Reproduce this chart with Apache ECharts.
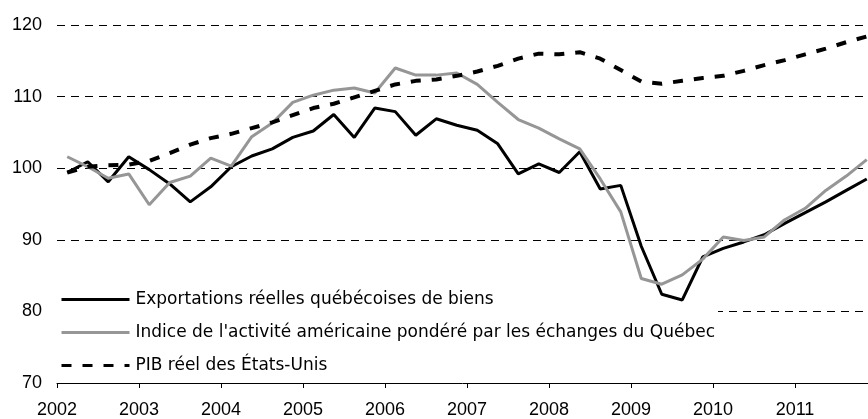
<!DOCTYPE html>
<html>
<head>
<meta charset="utf-8">
<script src="https://cdn.jsdelivr.net/npm/echarts@6/dist/echarts.min.js"></script>
<style>
  html, body { margin: 0; padding: 0; background: #fff; }
  #chart { width: 868px; height: 419px; }
</style>
</head>
<body>
<div id="chart"></div>
<script>
// quarterly series, 2002T1 .. 2011T4
let years = [2002, 2003, 2004, 2005, 2006, 2007, 2008, 2009, 2010, 2011]
let quarterNames = ['T1', 'T2', 'T3', 'T4']

let exportations = [
    99.4, 100.9, 98.1, 101.6, 99.8, 97.8, 95.3, 97.4, 100.2, 101.7,
    102.7, 104.3, 105.2, 107.5, 104.3, 108.4, 107.9, 104.6, 106.9, 106.0,
    105.3, 103.4, 99.2, 100.6, 99.4, 102.3, 97.1, 97.6, 89.1, 82.4,
    81.6, 87.6, 88.8, 89.7, 90.7, 92.3, 93.8, 95.3, 96.9, 98.5
]
let indiceUS = [
    101.6, 100.2, 98.6, 99.2, 94.9, 98.0, 98.9, 101.4, 100.3, 104.4,
    106.3, 109.2, 110.2, 110.9, 111.2, 110.5, 114.0, 113.0, 113.0, 113.3,
    111.7, 109.2, 106.8, 105.6, 104.1, 102.7, 98.5, 93.9, 84.6, 83.8,
    85.1, 87.3, 90.4, 89.9, 90.4, 92.8, 94.4, 96.9, 98.9, 101.2
]
let pibUS = [
    99.4, 100.2, 100.4, 100.5, 101.0, 102.1, 103.3, 104.2, 104.8, 105.6,
    106.4, 107.4, 108.4, 109.0, 109.9, 110.8, 111.7, 112.2, 112.4, 112.9,
    113.5, 114.3, 115.3, 116.0, 115.9, 116.2, 115.3, 113.7, 112.1, 111.8,
    112.2, 112.6, 112.9, 113.6, 114.4, 115.1, 115.9, 116.7, 117.6, 118.4
]

let seriesNames = [
    'Exportations réelles québécoises de biens',
    "Indice de l'activité américaine pondéré par les échanges du Québec",
    'PIB réel des États-Unis'
]

let yTicks = { min: 70, max: 120, interval: 10 }

// position of each quarter on the time scale (middle of the quarter)
let quarterPos = []
years.forEach(y => quarterNames.forEach((q, i) => quarterPos.push(y + (i + 0.5) / 4)))

function toPoints(values) {
    return values.map((v, i) => [quarterPos[i], v])
}

let font = 'Liberation Sans, Arial, sans-serif'
let chart = echarts.init(document.getElementById('chart'))

let chartOpt = {
    animation: false,
    grid: {
        left: 57,
        right: 0,
        top: 25,
        bottom: 36
    },
    xAxis: {
        type: 'value',
        min: years[0],
        max: 2011.89,
        interval: 1,
        axisLine: { lineStyle: { color: '#000', width: 1 } },
        axisTick: { show: true, length: 5, lineStyle: { color: '#000' } },
        axisLabel: {
            color: '#000',
            fontFamily: font,
            fontSize: 18,
            margin: 18,
            showMaxLabel: false,
            formatter: v => (Number.isInteger(v) ? String(v) : '')
        },
        splitLine: { show: false }
    },
    yAxis: {
        type: 'value',
        min: yTicks.min,
        max: yTicks.max,
        interval: yTicks.interval,
        axisLine: { show: false },
        axisTick: { show: false },
        axisLabel: {
            color: '#000',
            fontFamily: font,
            fontSize: 18,
            margin: 15
        },
        splitLine: {
            show: true,
            lineStyle: { color: '#000', width: 1, type: [8, 6] }
        }
    },
    // white box hides the 80 gridline behind the legend, lines stay on top
    legend: {
        orient: 'vertical',
        left: 57,
        top: 288,
        z: 3,
        padding: [3, 3, 3, 3],
        backgroundColor: '#fff',
        itemWidth: 68,
        itemHeight: 20,
        itemGap: 16,
        itemStyle: { opacity: 0 },
        lineStyle: { width: 3 },
        textStyle: { color: '#000', fontFamily: 'DejaVu Sans, sans-serif', fontSize: 17, padding: [0, 0, 0, 1] },
        data: seriesNames
    },
    series: [
        {
            name: seriesNames[0],
            type: 'line',
            z: 5,
            symbol: 'none',
            data: toPoints(exportations),
            lineStyle: { color: '#000', width: 3 },
            itemStyle: { color: '#000' }
        },
        {
            name: seriesNames[1],
            type: 'line',
            z: 5,
            symbol: 'none',
            data: toPoints(indiceUS),
            lineStyle: { color: '#969696', width: 3 },
            itemStyle: { color: '#969696' }
        },
        {
            name: seriesNames[2],
            type: 'line',
            z: 5,
            symbol: 'none',
            data: toPoints(pibUS),
            lineStyle: { color: '#000', width: 4, type: [10, 11] },
            itemStyle: { color: '#000' }
        }
    ]
}

chart.setOption(chartOpt)
</script>
</body>
</html>
